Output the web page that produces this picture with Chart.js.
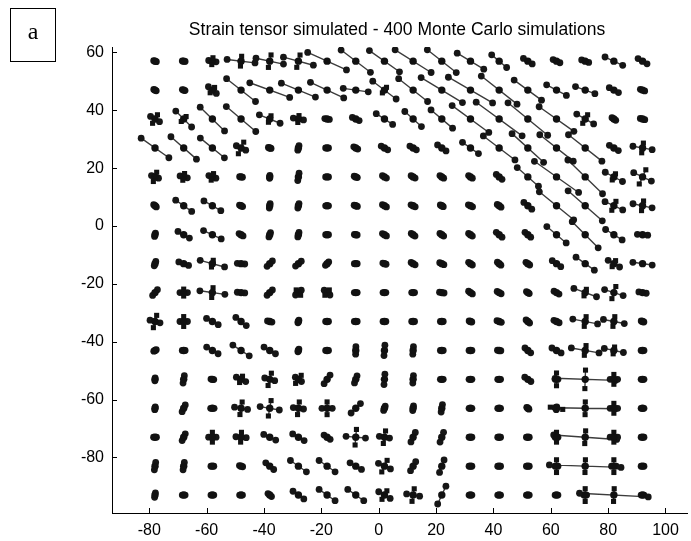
<!DOCTYPE html>
<html><head><meta charset="utf-8">
<script src="https://cdn.jsdelivr.net/npm/chart.js@4.4.0/dist/chart.umd.min.js"></script>
<style>html,body{margin:0;padding:0;background:#fff;}canvas{display:block;}</style>
</head><body>
<canvas id="c" width="691" height="541"></canvas>
<script>
const titleText = 'Strain tensor simulated - 400 Monte Carlo simulations';
const panelLabel = 'a';
const colX = [-78,-68,-58,-48,-38,-28,-18,-8,2,12,22,32,42,52,62,72,82,92];
const rowY = [57,47,37,27,17,7,-3,-13,-23,-33,-43,-53,-63,-73,-83,-93];
const xTicks = [-80,-60,-40,-20,0,20,40,60,80,100];
const yTicks = [-80,-60,-40,-20,0,20,40,60];

// half-length of the major principal axis at each grid node (rows top->bottom, cols left->right)
const majorHalf = [
 [0.5,0.5,1.3,4.9,4.9,5.4,7.4,6.4,6.4,7.4,6.4,5.4,3.4,1.8,1.3,1.3,3.4,1.8],
 [0.5,0.5,1.8,6.4,7.4,6.4,6.4,4.4,5.1,6.4,8.4,8.9,7.9,5.9,3.9,3.6,1.8,0.8],
 [1.8,3.9,5.9,6.7,3.9,1.8,0.8,1.3,3.4,3.9,4.9,7.9,9.9,8.9,7.4,3.4,0.8,0.8],
 [5.9,5.9,5.4,1.8,0.5,0.8,0.5,0.8,1.3,1.3,1.8,3.4,6.9,7.4,7.4,7.4,1.8,3.4],
 [1.3,1.3,1.3,0.5,0.5,1.3,0.5,0.6,0.8,0.8,0.8,0.8,1.3,4.9,9.4,8.4,3.4,3.4],
 [0.6,3.4,3.4,0.6,0.8,0.8,0.5,0.6,0.8,0.8,0.6,0.8,0.8,1.8,7.7,7.9,3.4,3.4],
 [0.6,2.3,3.4,0.8,0.8,0.8,0.5,0.5,0.8,0.8,0.8,0.8,1.3,1.3,4.4,6.4,3.4,1.8],
 [0.8,1.8,4.4,1.3,1.3,1.3,0.8,0.5,0.6,0.8,0.8,0.8,0.8,0.8,1.8,3.9,2.3,3.4],
 [1.3,1.3,4.4,1.3,1.3,1.3,1.3,0.5,0.5,0.5,0.8,0.8,0.8,0.6,1.0,4.2,3.4,1.3],
 [1.8,1.3,2.3,2.3,0.8,0.5,0.5,0.5,0.5,0.5,0.5,0.5,0.8,0.8,1.0,4.4,3.7,0.5],
 [0.5,0.5,2.3,3.4,2.3,0.5,0.5,1.3,1.8,1.3,0.5,0.5,0.6,1.3,1.8,4.9,3.4,0.5],
 [0.5,1.3,0.5,1.8,1.8,1.3,1.8,1.3,1.8,1.3,0.5,0.5,0.5,1.3,0.5,10.5,1.3,0.5],
 [0.5,1.3,0.6,2.3,3.4,1.8,1.8,2.3,0.8,0.8,1.3,0.5,0.5,0.5,0.5,10.5,1.3,0.5],
 [0.5,1.3,1.3,1.8,2.3,2.3,1.3,3.4,1.8,1.8,1.8,0.5,0.5,0.5,0.5,11,1.3,0.5],
 [1.3,1.3,0.5,0.6,1.8,3.4,3.4,2.3,2.3,1.8,2.3,0.5,0.5,0.5,0.5,12.5,0.8,0.5],
 [0.8,0.5,0.5,0.5,0.8,2.3,3.4,3.4,2.3,2.3,3.4,0.5,0.5,0.5,0.5,0.5,12,0.5]
];
// orientation of the major axis, degrees
const majorAngle = [
 [-20,-10,-10,-7,-12,-15,-24,-37,-35,-32,-38,-31,-40,-32,-25,-20,-25,-30],
 [-30,-20,-40,-38,-20,-22,-25,-8,-37,-38,-31,-30,-38,-36,-28,-20,-28,-20],
 [-30,-45,-44,-40,-22,-10,-10,-25,-33,-42,-40,-36,-36,-39,-35,-30,-35,-15],
 [-35,-41,-39,-25,-20,75,0,-30,-30,-30,-35,-35,-37,-42,-38,-38,-30,-10],
 [-20,-15,-20,-10,85,80,0,-25,-30,-30,-35,-35,-40,-41,-35,-44,-28,-25],
 [-40,-35,-30,-25,80,75,0,-20,-30,-25,-30,-25,-35,-40,-39,-41,-25,-12],
 [75,-30,-25,-30,70,75,0,-10,-30,-35,-35,-35,-40,-40,-40,-45,-32,-5],
 [70,-20,-15,-5,45,40,45,0,-20,-30,-25,-35,-40,-35,-35,-35,-30,-8],
 [50,0,-8,-5,45,40,-40,0,0,0,-10,-35,-30,-35,-30,-20,-18,-10],
 [-15,0,-28,-38,-15,70,0,0,0,0,0,-20,-20,-40,-25,-11,-11,-20],
 [30,0,-30,-33,-30,70,0,88,85,85,0,0,-10,-40,-28,-10,-12,0],
 [85,80,-10,-25,-15,-35,55,70,85,85,0,0,0,-35,0,-2,0,0],
 [80,65,0,-10,-10,-8,0,45,70,80,80,0,0,-40,80,-1,0,0],
 [0,65,0,-5,-25,-30,-35,-5,-10,65,70,0,0,0,0,-4,0,0],
 [80,80,0,-20,-40,-35,-35,-30,-25,60,70,0,0,0,0,-2,0,0],
 [80,0,0,0,-40,-35,-35,-35,-30,-10,65,0,0,0,0,0,-3,0]
];
// half-length of the minor (perpendicular) axis
const minorHalf = [
 [0.5,0.5,1.2,1.7,2.2,2.2,0.5,0.5,0.7,0.5,0.5,0.5,0.5,0.5,0.5,0.5,0.5,0.5],
 [0.5,0.5,1.2,0.7,0.5,0.5,0.5,0.7,1.2,0.5,0.5,0.5,0.5,0.5,0.5,0.5,0.5,0.5],
 [1.7,1.2,0.7,0.5,1.2,1.2,0.5,0.5,0.5,0.5,0.5,0.7,0.5,0.5,0.5,1.7,0.5,0.5],
 [0.5,0.5,0.5,2.2,0.5,0.5,0.5,0.5,0.5,0.5,0.5,0.5,0.5,0.5,0.5,0.5,0.5,1.7],
 [1.7,1.2,1.2,0.5,0.7,0.5,0.5,0.5,0.5,0.5,0.5,0.5,0.5,0.5,0.5,0.5,1.2,2.7],
 [0.5,0.5,0.5,0.5,0.5,0.5,0.5,0.5,0.5,0.5,0.5,0.5,0.5,0.5,0.5,0.5,1.7,1.7],
 [0.5,0.5,0.5,0.5,0.5,0.5,0.5,0.5,0.5,0.5,0.5,0.5,0.5,0.5,0.5,0.5,0.7,0.5],
 [0.5,0.5,1.2,0.5,0.5,0.7,0.7,0.5,0.5,0.5,0.5,0.5,0.5,0.5,0.5,0.5,1.2,0.5],
 [0.5,1.2,1.7,0.7,0.5,1.2,1.2,0.5,0.5,0.5,0.5,0.5,0.5,0.5,0.5,1.2,2.2,0.5],
 [2.2,1.7,0.5,0.5,0.5,0.5,0.5,0.5,0.5,0.5,0.5,0.5,0.5,0.5,0.7,1.7,1.7,0.5],
 [0.5,0.5,0.5,0.5,0.5,0.5,0.5,0.5,0.5,0.5,0.5,0.5,0.7,0.5,0.5,1.7,1.2,0.5],
 [0.5,0.5,0.5,1.2,2.2,1.7,0.5,0.5,0.5,0.5,0.7,0.5,0.5,0.5,2.2,3.2,1.7,0.5],
 [0.5,0.5,0.5,2.2,2.7,2.2,2.2,0.7,0.5,0.5,0.5,0.5,0.5,0.5,2.2,2.2,1.7,0.5],
 [0.5,0.5,1.7,1.7,0.5,0.5,0.5,2.7,2.2,0.5,0.5,0.5,0.5,0.5,1.7,2.2,1.7,0.5],
 [0.5,0.5,0.5,0.5,0.5,0.5,0.5,0.5,2.2,0.5,0.5,0.5,0.5,0.5,2.2,2.2,2.2,0.5],
 [0.5,0.5,0.5,0.5,0.5,0.5,0.5,0.5,1.7,2.2,0.5,0.5,0.5,0.5,0.5,2.2,2.2,0.5]
];

const lineData = [], centerData = [], endData = [], squareData = [];
rowY.forEach((y, r) => colX.forEach((x, c) => {
  const a = majorHalf[r][c], t = majorAngle[r][c] * Math.PI / 180, b = minorHalf[r][c];
  const dx = a * Math.cos(t), dy = a * Math.sin(t);
  lineData.push({x: x - dx, y: y - dy}, {x: x + dx, y: y + dy}, {x: x, y: null});
  centerData.push({x: x, y: y});
  endData.push({x: x - dx, y: y - dy}, {x: x + dx, y: y + dy});
  if (b > 0.9) {
    const ex = -b * Math.sin(t), ey = b * Math.cos(t);
    lineData.push({x: x - ex, y: y - ey}, {x: x + ex, y: y + ey}, {x: x, y: null});
    squareData.push({x: x - ex, y: y - ey}, {x: x + ex, y: y + ey});
  }
}));

const deco = {
  id: 'deco',
  afterDraw(chart) {
    const ctx = chart.ctx, xs = chart.scales.x, ys = chart.scales.y, a = chart.chartArea;
    ctx.save();
    ctx.strokeStyle = '#000'; ctx.lineWidth = 1;
    xTicks.forEach(v => { const p = Math.round(xs.getPixelForValue(v)) + 0.5; ctx.beginPath(); ctx.moveTo(p, a.bottom); ctx.lineTo(p, a.bottom - 5); ctx.stroke(); });
    yTicks.forEach(v => { const p = Math.round(ys.getPixelForValue(v)) + 0.5; ctx.beginPath(); ctx.moveTo(a.left, p); ctx.lineTo(a.left + 5, p); ctx.stroke(); });
    ctx.fillStyle = '#000';
    ctx.font = '17.5px "Liberation Sans", Arial, sans-serif';
    ctx.textAlign = 'center'; ctx.textBaseline = 'middle';
    ctx.fillText(titleText, 397, 30);
    ctx.strokeRect(10.5, 8.5, 45, 53);
    ctx.font = '24px "Liberation Serif", "Times New Roman", serif';
    ctx.fillText(panelLabel, 33, 33);
    ctx.restore();
  }
};

new Chart(document.getElementById('c'), {
  type: 'scatter',
  data: { datasets: [
    { data: squareData, pointStyle: 'rect', pointRadius: 3.6, backgroundColor: '#111', borderWidth: 0, order: 1 },
    { data: centerData, pointStyle: 'circle', pointRadius: 3.7, backgroundColor: '#111', borderWidth: 0, order: 1 },
    { data: endData, pointStyle: 'circle', pointRadius: 3.4, backgroundColor: '#161616', borderWidth: 0, order: 1 },
    { data: lineData, showLine: true, spanGaps: false, pointRadius: 0, borderColor: '#3c3c3c', borderWidth: 1.4, order: 2 }
  ]},
  options: {
    responsive: false, animation: false, devicePixelRatio: 1,
    layout: { padding: { top: 47, right: 0, left: 0, bottom: 0 } },
    plugins: { legend: { display: false }, tooltip: { enabled: false }, title: { display: false } },
    scales: {
      x: { type: 'linear', min: -93, max: 107.5,
        afterFit: s => { s.height = 28; },
        afterBuildTicks: s => { s.ticks = xTicks.map(v => ({value: v})); },
        grid: { display: true, drawOnChartArea: false, drawTicks: false },
        border: { display: true, color: '#000', width: 1 },
        ticks: { padding: 8, color: '#000', font: { family: '"Liberation Sans", Arial, sans-serif', size: 16 } } },
      y: { type: 'linear', min: -99.2, max: 61.9,
        afterFit: s => { s.width = 112; },
        afterBuildTicks: s => { s.ticks = yTicks.map(v => ({value: v})); },
        grid: { display: true, drawOnChartArea: false, drawTicks: false },
        border: { display: true, color: '#000', width: 1 },
        ticks: { padding: 8, color: '#000', font: { family: '"Liberation Sans", Arial, sans-serif', size: 16 } } }
    }
  },
  plugins: [deco]
});
</script>
</body></html>
